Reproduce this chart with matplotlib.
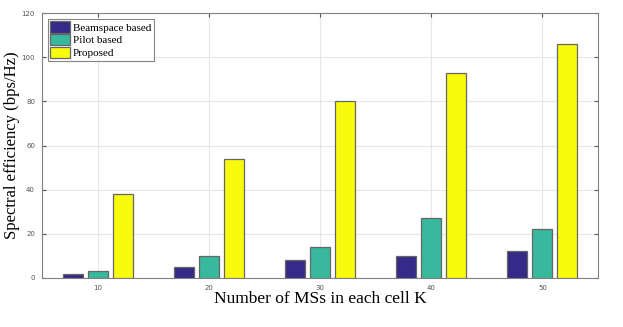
import numpy as np
import matplotlib.pyplot as plt

# number of MSs per cell
users = [10, 20, 30, 40, 50]
beamspace = [2, 5, 8, 10, 12]
pilot = [3, 10, 14, 27, 22]
proposed = [38, 54, 80, 93, 106]

series_names = ['Beamspace based', 'Pilot based', 'Proposed']
colors = ['#352a87', '#38b99e', '#f9fb0e']

fig = plt.figure(figsize=(6.23, 3.27), dpi=100)
ax = fig.add_axes([0.0674, 0.15, 0.8925, 0.81])

x = np.array(users, dtype=float)
w = 1.8
off = 2.25
for i, vals in enumerate([beamspace, pilot, proposed]):
    ax.bar(x + (i - 1) * off, vals, width=w, color=colors[i],
           edgecolor='#666666', linewidth=0.9, label=series_names[i], zorder=3)

ax.set_xlim(5, 55)
ax.set_ylim(0, 120)
ax.set_xticks(users)
ax.set_yticks(range(0, 121, 20))
ax.tick_params(labelsize=5, colors='#555555', direction='in', length=3,
               top=True, right=True, pad=5)
ax.grid(True, color='#e6e6e6', linewidth=0.8, zorder=0)
for s in ax.spines.values():
    s.set_color('#808080')
    s.set_linewidth(0.8)

ax.set_xlabel('Number of MSs in each cell K', family='Liberation Serif',
              fontsize=12.5)
ax.set_ylabel('Spectral efficiency (bps/Hz)', family='Liberation Serif',
              fontsize=12)
ax.xaxis.set_label_coords(0.5, -0.048)
ax.yaxis.set_label_coords(-0.04, 0.5)

leg = ax.legend(loc='upper left', prop={'family': 'Liberation Serif', 'size': 8},
                fancybox=False, borderpad=0.25, handlelength=1.8, handleheight=1.2,
                handletextpad=0.2, labelspacing=0.1, borderaxespad=0.5)
leg.get_frame().set_edgecolor('#666666')
leg.get_frame().set_linewidth(0.8)

fig.savefig('out.png', dpi=100)
